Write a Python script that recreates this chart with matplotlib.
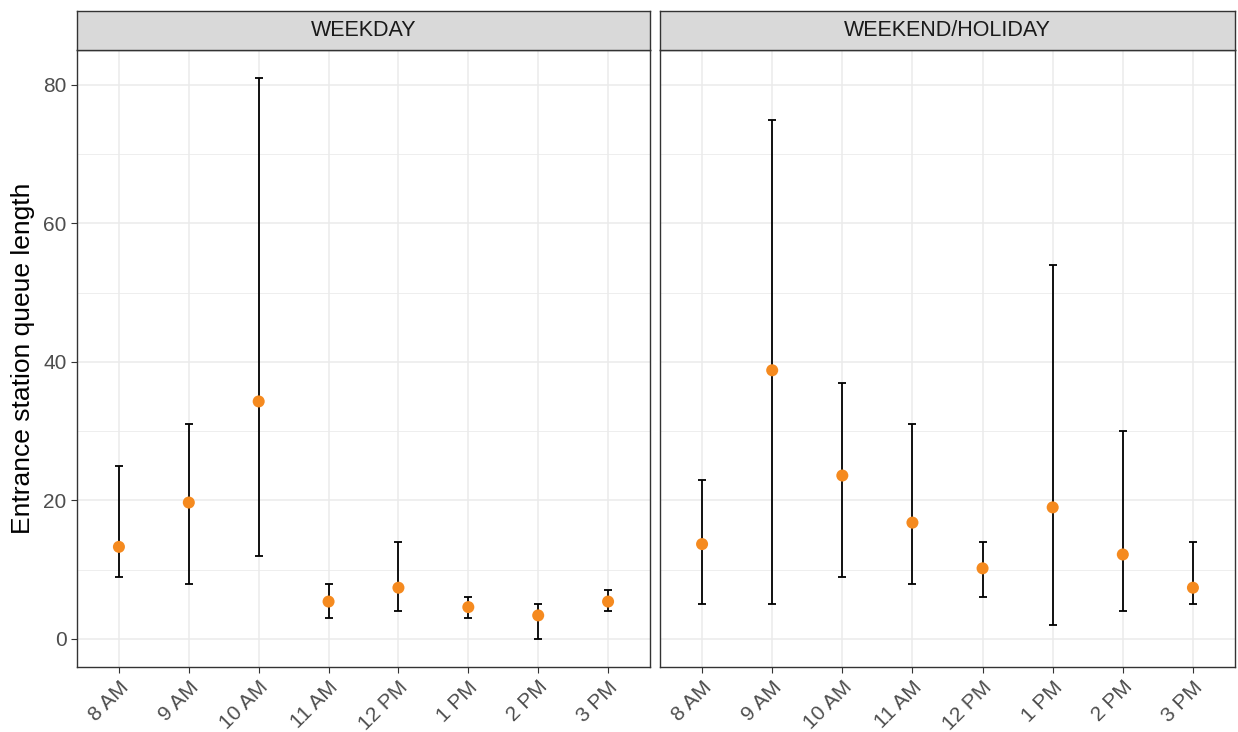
import matplotlib
matplotlib.use("Agg")
import matplotlib.pyplot as plt
import numpy as np

plt.rcParams['font.family'] = ['Liberation Sans', 'DejaVu Sans']

hours = ["8 AM", "9 AM", "10 AM", "11 AM", "12 PM", "1 PM", "2 PM", "3 PM"]
panels = ["WEEKDAY", "WEEKEND/HOLIDAY"]

weekday_mean = [13.3, 19.7, 34.3, 5.4, 7.4, 4.6, 3.4, 5.4]
weekday_low = [9, 8, 12, 3, 4, 3, 0, 4]
weekday_high = [25, 31, 81, 8, 14, 6, 5, 7]

weekend_mean = [13.7, 38.8, 23.6, 16.8, 10.2, 19.0, 12.2, 7.4]
weekend_low = [5, 5, 9, 8, 6, 2, 4, 5]
weekend_high = [23, 75, 37, 31, 14, 54, 30, 14]

data = [
    (weekday_mean, weekday_low, weekday_high),
    (weekend_mean, weekend_low, weekend_high),
]

W, H = 1238, 732
fig = plt.figure(figsize=(W / 100, H / 100), dpi=100)

panel_x = [(77, 650), (660, 1235)]
top_px, bot_px = 50, 667
strip_top = 11

x = np.arange(1, len(hours) + 1)
for i, ((x0, x1), (m, lo, hi)) in enumerate(zip(panel_x, data)):
    ax = fig.add_axes([x0 / W, 1 - bot_px / H, (x1 - x0) / W, (bot_px - top_px) / H])
    ax.set_xlim(0.4, len(hours) + 0.6)
    ax.set_ylim(-4.05, 85.05)
    ax.set_yticks([0, 20, 40, 60, 80])
    ax.set_yticks([10, 30, 50, 70], minor=True)
    ax.set_xticks(x)
    ax.grid(True, which='major', color='#EBEBEB', linewidth=1.1)
    ax.grid(True, which='minor', axis='y', color='#EBEBEB', linewidth=0.6)
    ax.set_axisbelow(True)
    m = np.array(m); lo = np.array(lo); hi = np.array(hi)
    ax.errorbar(x, m, yerr=[m - lo, hi - m], fmt='none', ecolor='black',
                elinewidth=1.3, capsize=3, capthick=1.3, zorder=2)
    ax.scatter(x, m, s=75, color='#F58A1F', zorder=3, edgecolors='none')
    for sp in ax.spines.values():
        sp.set_color('#333333')
        sp.set_linewidth(1.0)
    ax.tick_params(axis='both', which='major', color='#333333', length=4,
                   labelsize=15, labelcolor='#4D4D4D')
    ax.tick_params(axis='y', which='minor', length=0)
    ax.set_xticklabels(hours, rotation=45, ha='right', rotation_mode='anchor')
    if i == 0:
        ax.set_ylabel("Entrance station queue length", fontsize=19, color='black', labelpad=6)
    else:
        ax.set_yticklabels([])
        ax.tick_params(axis='y', which='major', length=0)
    # strip
    sax = fig.add_axes([x0 / W, 1 - top_px / H, (x1 - x0) / W, (top_px - strip_top) / H])
    sax.set_facecolor('#D9D9D9')
    sax.set_xticks([]); sax.set_yticks([])
    for sp in sax.spines.values():
        sp.set_color('#333333')
        sp.set_linewidth(1.0)
    sax.text(0.5, 0.5, panels[i], ha='center', va='center', fontsize=15.5,
             color='#1A1A1A', transform=sax.transAxes)

fig.savefig("out.png", dpi=100)
